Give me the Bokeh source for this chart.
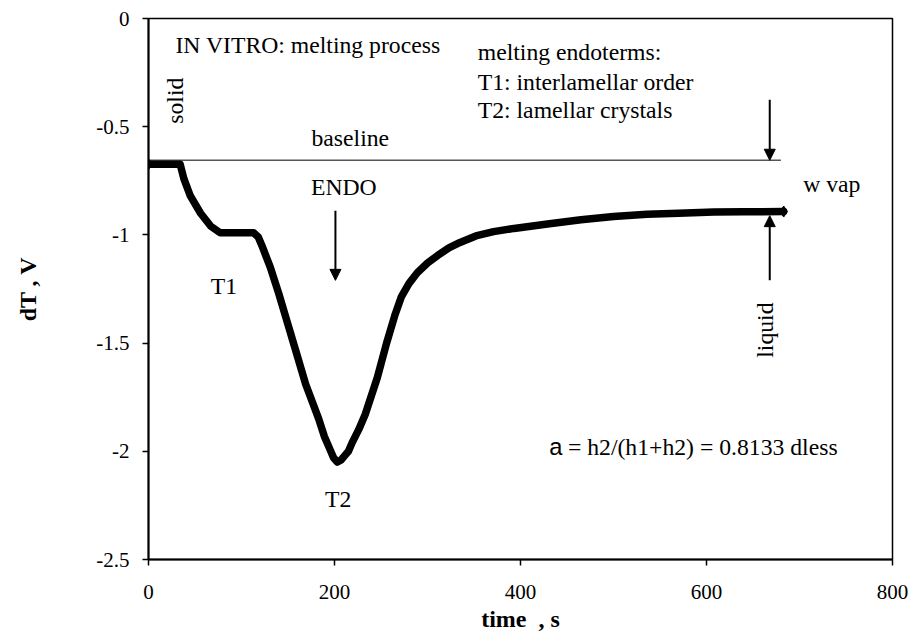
import math
from bokeh.plotting import figure
from bokeh.models import Label, Arrow, NormalHead, FixedTicker, Range1d
from bokeh.embed import file_html
from bokeh.resources import INLINE

# DTA melting trace (time in s, differential temperature signal in V)
time_s = [0, 10, 20, 30, 34, 38, 45, 56, 67, 77, 90, 100, 113, 118, 122, 131,
          140, 149, 158, 169, 176, 183, 189, 195, 199, 203, 207, 211, 215,
          219, 226, 233, 246, 256, 265, 272, 280, 289, 300, 311, 323, 335,
          352, 371, 393, 429, 465, 500, 536, 570, 608, 640, 683]
dT_V = [-0.673, -0.673, -0.673, -0.673, -0.673, -0.74, -0.82, -0.90, -0.96,
        -0.99, -0.99, -0.99, -0.99, -1.01, -1.05, -1.15, -1.27, -1.40, -1.53,
        -1.69, -1.77, -1.85, -1.93, -1.99, -2.03, -2.05, -2.04, -2.02, -2.00,
        -1.96, -1.90, -1.83, -1.66, -1.50, -1.37, -1.285, -1.225, -1.175,
        -1.13, -1.095, -1.06, -1.035, -1.005, -0.985, -0.97, -0.95, -0.93,
        -0.915, -0.905, -0.90, -0.894, -0.893, -0.892]

# reference baseline
baseline_t = [0, 680]
baseline_v = [-0.655, -0.655]

x_ticks = [0, 200, 400, 600, 800]
y_ticks = [0, -0.5, -1, -1.5, -2, -2.5]

SERIF = "Liberation Serif"
TEXT_SIZE = "23.7px"

p = figure(width=910, height=634, output_backend="svg", toolbar_location=None,
           x_range=Range1d(0, 800), y_range=Range1d(-2.5, 0),
           min_border_left=148, min_border_right=18, min_border_top=18,
           min_border_bottom=70)
p.background_fill_color = "white"
p.border_fill_color = "white"
p.outline_line_color = "black"
p.outline_line_width = 1.5
p.xgrid.visible = False
p.ygrid.visible = False

p.xaxis.ticker = FixedTicker(ticks=x_ticks)
p.yaxis.ticker = FixedTicker(ticks=y_ticks)
p.xaxis.major_label_overrides = {t: f"{t:g}" for t in x_ticks}
p.yaxis.major_label_overrides = {t: f"{t:g}" for t in y_ticks}
for ax in (p.xaxis, p.yaxis):
    ax.axis_line_width = 2
    ax.axis_line_color = "black"
    ax.major_tick_line_color = "black"
    ax.major_tick_line_width = 1.5
    ax.major_tick_in = 0
    ax.major_tick_out = 6
    ax.minor_tick_line_color = None
    ax.major_label_text_font = SERIF
    ax.major_label_text_font_size = "21px"
    ax.major_label_text_color = "black"
    ax.axis_label_text_font = SERIF
    ax.axis_label_text_font_style = "bold"
    ax.axis_label_text_font_size = "24px"
    ax.axis_label_text_color = "black"

p.xaxis.axis_label = "time\u00a0\u00a0, s"
p.yaxis.axis_label = "dT , V"
p.xaxis.major_label_standoff = 19
p.yaxis.major_label_standoff = 13
p.xaxis.axis_label_standoff = 4
p.yaxis.axis_label_standoff = 52

# baseline and measured curve
p.line(baseline_t, baseline_v, line_color="#555555", line_width=1.3)
p.line(time_s, dT_V, line_color="black", line_width=7.5, line_join="round",
       line_cap="round")
p.scatter([time_s[0], time_s[-1]], [dT_V[0], dT_V[-1]], marker="diamond",
          size=11, color="black")

def arrow(x, y0, y1):
    p.add_layout(Arrow(end=NormalHead(size=11, fill_color="black", line_color="black"),
                       x_start=x, y_start=y0, x_end=x, y_end=y1,
                       line_color="black", line_width=2))

arrow(201, -0.888, -1.21)     # ENDO
arrow(668, -0.375, -0.655)    # onto the baseline
arrow(668, -1.209, -0.911)    # onto the liquid plateau

def label(x, y, text, align="left", angle=0.0, font=SERIF, size=TEXT_SIZE):
    p.add_layout(Label(x=x, y=y, text=text, text_align=align,
                       text_baseline="middle", angle=angle,
                       text_font=font, text_font_size=size,
                       text_color="black"))

label(29, -0.124, "IN VITRO: melting process")
label(28, -0.38, "solid", align="center", angle=math.pi / 2)
label(217, -0.55, "baseline", align="center")
label(210, -0.78, "ENDO", align="center")
label(81, -1.236, "T1", align="center")
label(204, -2.22, "T2", align="center")
label(354, -0.156, "melting endoterms:")
label(354, -0.293, "T1: interlamellar order")
label(354, -0.421, "T2: lamellar crystals")
label(704, -0.765, "w vap")
label(663, -1.44, "liquid", align="center", angle=math.pi / 2)
label(431, -1.978, "a", font="Liberation Sans")
label(451, -1.978, "= h2/(h1+h2) = 0.8133 dless")

open("out.html", "w").write(file_html(p, INLINE))
